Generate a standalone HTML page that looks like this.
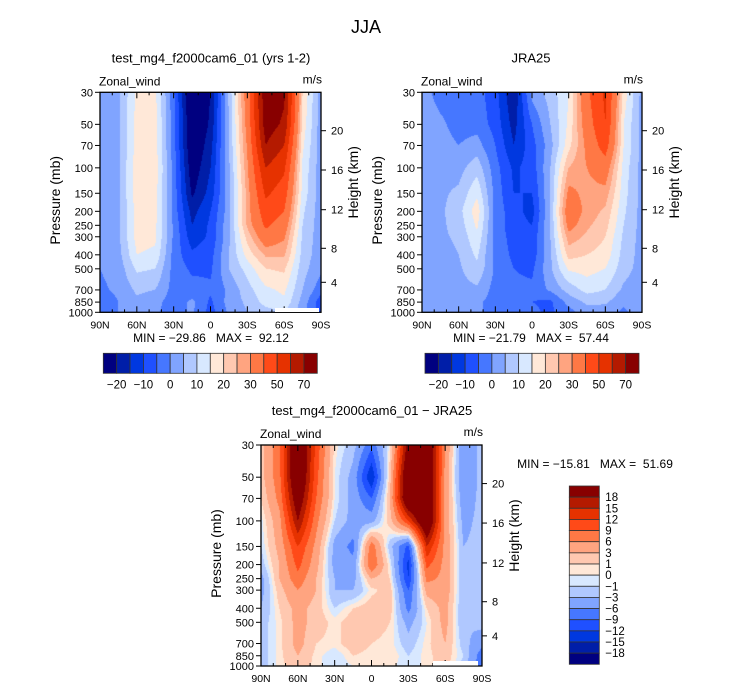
<!DOCTYPE html>
<html><head><meta charset="utf-8">
<style>
body{margin:0;background:#fff;width:732px;height:690px;overflow:hidden;position:relative;font-family:"Liberation Sans",sans-serif;}
canvas{position:absolute;}
svg{position:absolute;left:0;top:0;}
text{white-space:pre;}
</style></head>
<body>
<canvas id="c1" width="221" height="220" style="left:100px;top:92px"></canvas>
<canvas id="c2" width="220" height="220" style="left:422px;top:92px"></canvas>
<canvas id="c3" width="221" height="221" style="left:261px;top:445px"></canvas>
<svg id="ov" width="732" height="690"></svg>
<script>
const pressureLevels=[30,50,70,100,150,200,250,300,400,500,700,850,1000];
const latLabels=["90N","60N","30N","0","30S","60S","90S"];
const heightTicks=[20,16,12,8,4];
const heightTickY=[130.7,170,209.7,248.3,282.3];
const colors=["#000080","#001ea8","#0038e0","#1f50ff","#4677ff","#80a4ff","#b0c8ff","#d8e8ff","#ffe8d8","#ffc8b0","#ffa480","#ff7845","#ff4a18","#e63200","#b41a00","#880000"];
const absLevels=[-20,-15,-10,-5,0,5,10,15,20,25,30,40,50,60,70];
const diffLevels=[-18,-15,-12,-9,-6,-3,-1,0,1,3,6,9,12,15,18];
const absLabels=["-20","-10","0","10","20","30","50","70"];
const diffLabels=["18","15","12","9","6","3","1","0","-1","-3","-6","-9","-12","-15","-18"];
// columns: 90N,75N,60N,45N,30N,15N,0,15S,30S,45S,60S,75S,90S ; rows: pressureLevels
const modelU=[
[0,4,16,16,-4,-28,-20,6,35,78,72,20,2],
[0,4,17,17,-3,-27,-19,5,33,76,68,18,2],
[0,4,17,17,-3,-26,-17,5,31,70,60,16,2],
[0,4,18,18,-2,-24,-15,4,29,60,52,14,2],
[0,4,18,17,-2,-21,-13,3,27,52,45,13,2],
[0,4,17,17,-2,-17,-10,3,27,46,40,11,2],
[0,4,17,16,-1,-15,-9,4,26,42,35,10,2],
[0,4,17,16,-1,-13,-9,4,22,36,31,9,2],
[0,3,15,14,-2,-9,-7,5,17,26,26,8,2],
[0,2,11,10,-2,-6,-6,5,12,20,21,7,1],
[-1,1,6,5,-2,-3,-4,1,8,14,16,5,-3],
[-3,0,4,2,-3,1,-6,2,6,12,14,3,-8],
[-4,0,3,1,-3,1,-7,1,5,8,10,2,-8]];
const jraU=[
[2,-2,-2,-3,-8,-20,2,7,15,38,52,18,3],
[3,1,-2,-2,-7,-17,-5,5,16,35,50,15,3],
[3,2,0,2,-5,-15,-7,3,18,32,45,15,3],
[3,3,3,8,-3,-11,-8,5,25,30,35,13,3],
[3,4,6,14,-2,-10,-10,5,32,28,28,12,3],
[3,4,8,18,-2,-8,-12,5,36,28,24,11,3],
[3,4,7,16,-2,-8,-10,5,33,26,22,10,3],
[3,4,6,14,-2,-7,-9,5,28,24,20,9,3],
[3,3,5,11,-2,-6,-8,4,22,20,18,8,3],
[3,3,4,9,-1,-5,-6,4,16,17,15,7,3],
[2,2,3,4,-2,-4,-4,1,7,12,10,4,2],
[2,2,2,1,-2,-3,-5,-6,2,6,6,1,3],
[2,2,2,1,-2,-3,-4,-6,-2,3,2,-1,3]];
const diffU=[
[2,8,25,11,0.5,-2,-8,0.5,20,25,6,-6,-2],
[2,8,25,10,0,-4,-15,2,25,25,5,-6,-2],
[1,7,22,9,0,-4,-9,3,25,25,5,-5,-2],
[-0.5,5,18,7,-1,-4,-4,2,12,25,5,-4,-2],
[-1,4,12,5,-4,-7,8,-2,-10,15,5,-3,-2],
[-2,3,10,4,-4,-5,9,0,-13,10,5,-3,-2],
[-4,3,8,3,-3,-4,3,1,-12,7,5,-3,-2],
[-4,2,6,3,-3,-3,0.5,2,-9,4,5,-3,-2],
[-3,1,4,2,-1,1,2,2,-7,1,4,-3,-2],
[-2,0.5,4,2,0.5,2,2,1,-4,0,4,-3,-2],
[-2,0.5,4,1,0.5,2,1,0.5,-2,0.5,3,-2,-5],
[-2,0.5,3,0.5,-1,1,0.5,1,-1,0.5,2,-1,-8],
[-2,0.5,2,0.5,-1,0,0.5,0.5,-1,0.5,2,-2,-8]];

const lp0=Math.log(30),lp1=Math.log(1000);
function yOfP(p,top,h){return top+(Math.log(p)-lp0)/(lp1-lp0)*h;}
function hex(c){return [parseInt(c.substr(1,2),16),parseInt(c.substr(3,2),16),parseInt(c.substr(5,2),16)];}
const rgb=colors.map(hex);
function drawField(id,grid,levels){
  const cv=document.getElementById(id),ctx=cv.getContext('2d');
  const w=cv.width,h=cv.height,img=ctx.createImageData(w,h);
  const lps=pressureLevels.map(p=>Math.log(p));
  for(let py=0;py<h;py++){
    const lp=lp0+(py+0.5)/h*(lp1-lp0);
    let r=0;while(r<lps.length-2&&lp>lps[r+1])r++;
    const fy=Math.min(1,Math.max(0,(lp-lps[r])/(lps[r+1]-lps[r])));
    for(let px=0;px<w;px++){
      const fx=(px+0.5)/w*12;let c=Math.min(11,Math.floor(fx));const tx=fx-c;
      const v=(grid[r][c]*(1-tx)+grid[r][c+1]*tx)*(1-fy)+(grid[r+1][c]*(1-tx)+grid[r+1][c+1]*tx)*fy;
      let k=0;while(k<levels.length&&v>=levels[k])k++;
      const o=(py*w+px)*4,col=rgb[k];
      img.data[o]=col[0];img.data[o+1]=col[1];img.data[o+2]=col[2];img.data[o+3]=255;
    }
  }
  ctx.putImageData(img,0,0);
}
drawField('c1',modelU,absLevels);
drawField('c2',jraU,absLevels);
drawField('c3',diffU,diffLevels);

const NS="http://www.w3.org/2000/svg",ov=document.getElementById('ov');
function mk(tag,attrs,parent){const e=document.createElementNS(NS,tag);for(const k in attrs)e.setAttribute(k,attrs[k]);(parent||ov).appendChild(e);return e;}
function txt(x,y,s,size,anchor,name,rot){const e=mk('text',{x:x,y:y,'font-size':size,'text-anchor':anchor||'middle','font-family':'Liberation Sans, sans-serif',fill:'#000'});if(rot)e.setAttribute('transform','rotate(-90 '+x+' '+y+')');e.textContent=s;


return e;}

function axes(L,T,W,H,title,titleX,minmax,mmX,mmY){
  const g=mk('g',{});
  
  
  mk('rect',{x:L,y:T,width:W,height:H,fill:'none',stroke:'#000','stroke-width':1.3},g);
  pressureLevels.forEach(p=>{const y=yOfP(p,T,H);mk('line',{x1:L-5,x2:L,y1:y,y2:y,stroke:'#000'},g);
    txt(L-7,y+4,String(p),11,'end','y-tick-label');});
  heightTicks.forEach((hk,i)=>{const y=T+(heightTickY[i]-92.3)/220*H;mk('line',{x1:L+W,x2:L+W+5,y1:y,y2:y,stroke:'#000'},g);
    txt(L+W+10,y+4,String(hk),11,'start','right-tick-label');});
  for(let d=0;d<=18;d++){const x=L+d/18*W;const len=d%3==0?6:3;
    mk('line',{x1:x,x2:x,y1:T+H,y2:T+H-len,stroke:'#000'},g);
    mk('line',{x1:x,x2:x,y1:T,y2:T+len,stroke:'#000'},g);}
  latLabels.forEach((s,i)=>txt(L+i/6*W,T+H+16,s,10.5,'middle','x-tick-label'));
  txt(L-1,T-7,'Zonal_wind',12,'start','variable-label');
  txt(L+W+1,T-9,'m/s',12,'end','units-label');
  txt(L-40,T+H/2-2,'Pressure (mb)',14,'middle','y-axis-title',true);
  txt(L+W+37,T+H/2-20,'Height (km)',14,'middle','right-axis-title',true);
  txt(titleX,T-30,title,13,'middle','panel-title');
  txt(mmX,mmY,minmax,12,'middle','min-max-label');
}
txt(366,33,'JJA',18,'middle','main-title');
axes(100,92.3,221,220,'test_mg4_f2000cam6_01 (yrs 1-2)',211,'MIN = −29.86   MAX =  92.12',211,342);
axes(422,92.3,220,220,'JRA25',531,'MIN = −21.79   MAX =  57.44',531,342);
axes(261,445,221,221,'test_mg4_f2000cam6_01 − JRA25',372,'MIN = −15.81   MAX =  51.69',595,468);
mk('rect',{x:275,y:308,width:44,height:4,fill:'#fff'});
mk('rect',{x:433,y:661,width:45,height:4.5,fill:'#fff'});

function hbar(L,T,W,H){
  const bw=W/16;
  colors.forEach((c,i)=>{const r=mk('rect',{x:L+i*bw,y:T,width:bw,height:H,fill:c,stroke:'#333','stroke-width':0.8});
    
    });
  absLabels.forEach((s,j)=>txt(L+(2*j+1)*bw,T+H+15,s.replace('-','−'),11.5,'middle','colorbar-label'));
}
hbar(103.3,353.3,214,20);
hbar(425,353.3,214,20);
(function(){const L=569.3,T=486,W=30,H=178.3,bh=H/16;
  colors.slice().reverse().forEach((c,i)=>{const r=mk('rect',{x:L,y:T+i*bh,width:W,height:bh,fill:c,stroke:'#333','stroke-width':0.8});
    
    });
  diffLabels.forEach((s,j)=>txt(L+W+6,T+(j+1)*bh+4,s.replace('-','−'),11.5,'start','diff-colorbar-label'));
})();
</script>
</body></html>
